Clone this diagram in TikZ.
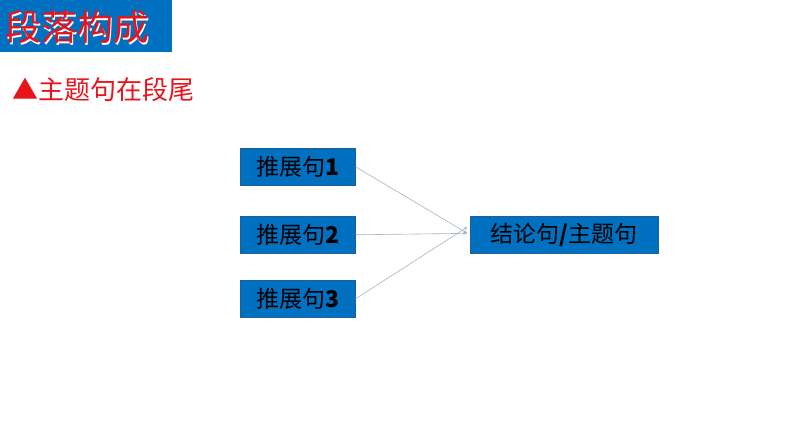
\documentclass[tikz,border=0pt]{standalone}
\usepackage{fontspec}
\newfontfamily\cjk{Noto Sans CJK SC}
\usetikzlibrary{arrows.meta}
\definecolor{boxblue}{HTML}{0070C0}
\definecolor{boxedge}{HTML}{1F5E96}
\definecolor{titlered}{HTML}{E8141B}
\definecolor{linegray}{HTML}{A5B3C6}
\tikzset{
  stepbox/.style={draw=boxedge, line width=0.6pt, fill=boxblue, inner sep=0pt, anchor=north west,
    font=\cjk\fontsize{23}{23}\selectfont, text=black},
  conn/.style={draw=linegray, line width=0.6pt, -{Stealth[length=4pt,width=3pt]}, shorten >=3pt}
}
\begin{document}
\begin{tikzpicture}[x=1pt,y=-1pt]
\useasboundingbox (0,0) rectangle (794,447);
\fill[white] (0,0) rectangle (794,447);
% title
\node[fill=boxblue, anchor=north west, minimum width=172pt, minimum height=52pt, inner sep=0pt] (titlebox) at (0,0) {};
\node[anchor=west, text=white, font=\cjk\fontsize{36}{36}\selectfont, inner sep=0pt] (titleshadow) at (6.5,28.5) {段落构成};
\node[anchor=west, text=titlered, font=\cjk\fontsize{36}{36}\selectfont, inner sep=0pt] (title) at (5,27) {段落构成};
% subtitle
\node[anchor=west, text=titlered, font=\cjk\fontsize{26}{26}\selectfont, inner sep=0pt] (sub) at (12,90) {▲主题句在段尾};
% boxes
\node[stepbox, minimum width=115pt, minimum height=37pt] (s1) at (240,148) {推展句\textbf{1}};
\node[stepbox, minimum width=115pt, minimum height=37pt] (s2) at (240,216) {推展句\textbf{2}};
\node[stepbox, minimum width=115pt, minimum height=37pt] (s3) at (240,280) {推展句\textbf{3}};
\node[stepbox, minimum width=188pt, minimum height=37pt] (c) at (470,216) {结论句\textbf{/}主题句};
% connectors
\draw[conn] (s1.east) -- (c.west);
\draw[conn] (s2.east) -- ([yshift=1.5pt]c.west);
\draw[conn] (s3.east) -- ([yshift=9.5pt]c.west);
\end{tikzpicture}
\end{document}
